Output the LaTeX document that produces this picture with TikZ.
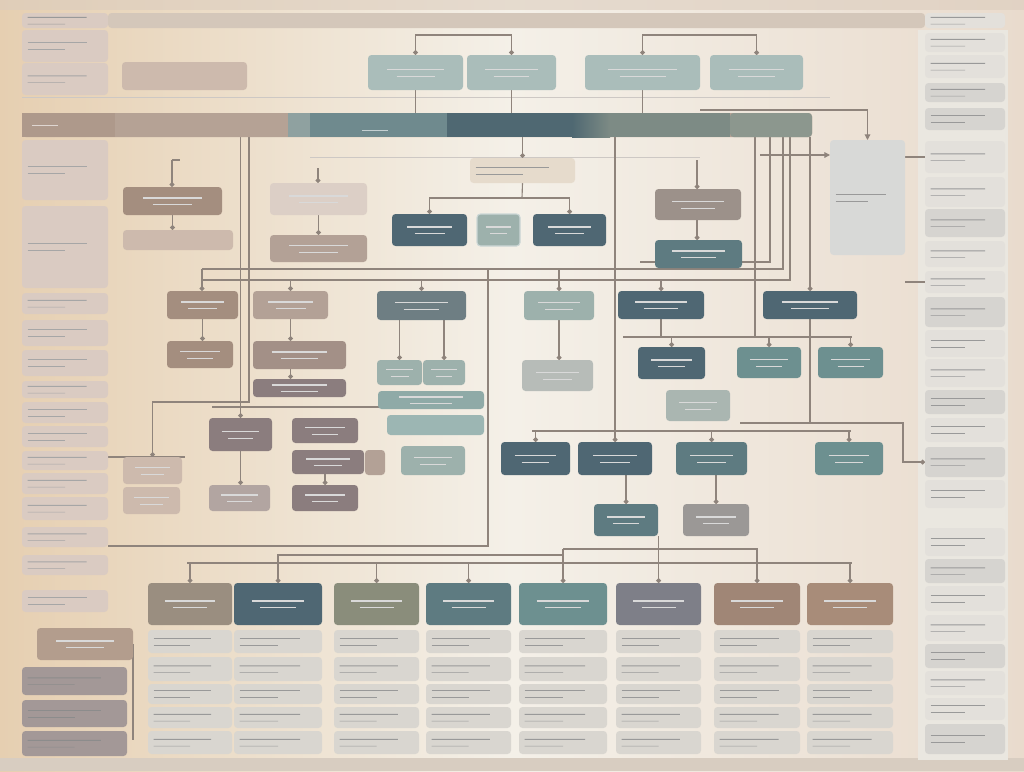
\documentclass[tikz,border=0pt]{standalone}
\usepackage{xcolor}
\usepackage{tikz}
\usetikzlibrary{
	arrows.meta,
	calc
}

\definecolor{bgL}{HTML}{E6CFB1}
\definecolor{bgM}{HTML}{F4F0E8}
\definecolor{bgR}{HTML}{E9DBCD}
\definecolor{topc}{HTML}{DCCDBE}
\definecolor{botc}{HTML}{D8CDC1}
\definecolor{hdrc}{HTML}{D4C7BA}
\definecolor{sideL}{HTML}{DACBC2}
\definecolor{sideR}{HTML}{E3E0DB}
\definecolor{sideD}{HTML}{D6D4D0}
\definecolor{tanD}{HTML}{A48E7F}
\definecolor{tanM}{HTML}{B3A196}
\definecolor{tanM2}{HTML}{A39087}
\definecolor{tanL}{HTML}{CDBAAD}
\definecolor{mauve}{HTML}{8B7D7E}
\definecolor{mauveL}{HTML}{B2A5A1}
\definecolor{slate}{HTML}{4F6773}
\definecolor{slateM}{HTML}{5E7B81}
\definecolor{slateG}{HTML}{6E7E83}
\definecolor{cteal}{HTML}{6D9090}
\definecolor{tealL}{HTML}{8FAAA7}
\definecolor{tealL2}{HTML}{9CB6B3}
\definecolor{sage}{HTML}{9DB1AC}
\definecolor{sageL}{HTML}{AABDBA}
\definecolor{sageL2}{HTML}{AAB6B1}
\definecolor{grayL}{HTML}{B7BCB8}
\definecolor{grayM}{HTML}{9B9896}
\definecolor{grayBr}{HTML}{9C918A}
\definecolor{noteC}{HTML}{E6DBCC}
\definecolor{rowc}{HTML}{D9D6D0}
\definecolor{cOlive}{HTML}{8A8D7B}
\definecolor{pgray}{HTML}{7E7F88}
\definecolor{brownL}{HTML}{A08676}
\definecolor{brownM}{HTML}{A88C79}
\definecolor{tanOl}{HTML}{9A8E80}
\definecolor{barA}{HTML}{AE998B}
\definecolor{barB}{HTML}{B5A295}
\definecolor{barC}{HTML}{8FA1A0}
\definecolor{barD}{HTML}{6F8A8E}
\definecolor{barE}{HTML}{4F6872}
\definecolor{barF}{HTML}{7D8B85}
\definecolor{barG}{HTML}{8C978E}
\definecolor{grayP}{HTML}{D8D9D7}
\definecolor{blT}{HTML}{B39D8D}
\definecolor{blM}{HTML}{A39897}
\definecolor{wirec}{HTML}{8F847C}

\pgfdeclarelayer{back}
\pgfdeclarelayer{wires}
\pgfsetlayers{back,wires,main}

% box from pixel corners: [opts]{name}{x1}{y1}{x2}{y2}{colour}
\newcommand{\cbox}[7][]{\node[box,fill=#7,minimum width={(#5-#3)*0.025cm},minimum height={(#6-#4)*0.025cm},#1] (#2) at ({(#3+#5)/2},{(#4+#6)/2}) {};}

\begin{document}
\begin{tikzpicture}[x=0.025cm,y=-0.025cm,
		box/.style={rounded corners=2.5pt,inner sep=0pt,outer sep=0pt},
		wire/.style={draw=wirec,line width=0.8pt},
		faint/.style={draw=wirec!45,line width=0.5pt},
		dot/.style={wire,-{Circle[length=3.4pt,width=3.4pt]}},
		arr/.style={wire,-{Triangle[length=4pt,width=4pt]}},
		txt/.style={path picture={
			\draw[#1,line width=0.9pt] ($(path picture bounding box.west)!0.2!(path picture bounding box.east)+(0,2.2pt)$) -- ($(path picture bounding box.west)!0.8!(path picture bounding box.east)+(0,2.2pt)$);
			\draw[#1,line width=0.5pt] ($(path picture bounding box.west)!0.3!(path picture bounding box.east)+(0,-2.6pt)$) -- ($(path picture bounding box.west)!0.7!(path picture bounding box.east)+(0,-2.6pt)$);}},
		txt/.default=white!70!gray,
		ltxt/.style={path picture={
			\draw[#1,line width=0.7pt] ($(path picture bounding box.west)+(4pt,2.2pt)$) -- ($(path picture bounding box.west)!0.75!(path picture bounding box.east)+(0,2.2pt)$);
			\draw[#1,line width=0.45pt] ($(path picture bounding box.west)+(4pt,-2.6pt)$) -- ($(path picture bounding box.west)!0.5!(path picture bounding box.east)+(0,-2.6pt)$);}},
		ltxt/.default=black!40]

	\useasboundingbox (0,0) rectangle (1024,771);
	\begin{pgfonlayer}{back}
		\shade[left color=bgL,right color=bgR,middle color=bgM] (0,0) rectangle (1024,771);
		\fill[topc,opacity=0.6] (0,0) rectangle (1024,10);
		\fill[botc] (0,758) rectangle (1024,771);
		\fill[sideR!60!bgM] (918,30) rectangle (1008,760);
	\end{pgfonlayer}

	% header strip
	\cbox[ltxt]{hdrL}{22}{13}{108}{28}{sideL}
	\cbox{hdr}{108}{13}{925}{28}{hdrc}
	\cbox[ltxt]{hdrR}{925}{13}{1005}{28}{sideR}

	% side columns
	\foreach \ya/\yb [count=\i] in {30/62,63/95,140/200,206/288,293/314,320/346,350/376,381/398,402/423,426/447,451/470,473/494,497/520,527/547,555/575,590/612}
		{\cbox[ltxt=black!35]{ls\i}{22}{\ya}{108}{\yb}{sideL}}
	\foreach \ya/\yb/\c [count=\i] in {33/52/sideR,55/78/sideR,83/102/sideD,108/130/sideD,141/173/sideR,177/207/sideR,209/237/sideD,241/267/sideR,271/293/sideR,297/327/sideD,330/357/sideR,359/387/sideR,390/414/sideD,418/442/sideR,447/477/sideD,480/508/sideR,528/556/sideR,559/583/sideD,586/611/sideR,615/641/sideR,644/668/sideD,671/695/sideR,698/720/sideR,724/754/sideD}
		{\cbox[ltxt]{rs\i}{925}{\ya}{1005}{\yb}{\c}}
	\cbox[ltxt]{gp}{830}{140}{905}{255}{grayP}

	% top row
	\cbox{t1}{122}{62}{247}{90}{tanL}
	\cbox[txt]{t2}{368}{55}{463}{90}{sageL}
	\cbox[txt]{t3}{467}{55}{556}{90}{sageL}
	\cbox[txt]{t4}{585}{55}{700}{90}{sageL}
	\cbox[txt]{t5}{710}{55}{803}{90}{sageL}

	% main bar
	\cbox{bar}{22}{113}{812}{137}{barB}
	\fill[barA] (22,113) rectangle (115,137);
	\fill[barC] (288,113) rectangle (310,137);
	\fill[barD] (310,113) rectangle (447,137);
	\fill[barE] (447,113) rectangle (572,137);
	\shade[left color=barE,right color=barF] (572,113) rectangle (610,137);
	\fill[barF] (610,113) rectangle (730,137);
	\fill[barG,rounded corners=2.5pt] (730,113) rectangle (812,137);
	\draw[barA!40!white,line width=0.7pt] (32,125) -- (58,125);
	\draw[barD!40!white,line width=0.7pt] (362,130) -- (388,130);

	% second level
	\cbox[txt]{a1}{123}{187}{222}{215}{tanD}
	\cbox{a2}{123}{230}{233}{250}{tanL}
	\cbox[txt]{b1}{270}{183}{367}{215}{tanL!70!white}
	\cbox[txt]{b2}{270}{235}{367}{262}{tanM}
	\cbox[ltxt]{c}{470}{158}{575}{183}{noteC}
	\cbox[txt]{d1}{392}{214}{467}{246}{slate}
	\cbox[txt,draw=sageL!60!white,line width=0.8pt]{d2}{477}{214}{520}{246}{sage}
	\cbox[txt]{d3}{533}{214}{606}{246}{slate}
	\cbox[txt]{e1}{655}{189}{741}{220}{grayBr}
	\cbox[txt]{e2}{655}{240}{742}{268}{slateM}

	% third level
	\cbox[txt]{f1}{167}{291}{238}{319}{tanD}
	\cbox[txt]{f2}{253}{291}{328}{319}{tanM}
	\cbox[txt]{g1}{377}{291}{466}{320}{slateG}
	\cbox[txt]{h1}{524}{291}{594}{320}{sage}
	\cbox[txt]{i1}{618}{291}{704}{319}{slate}
	\cbox[txt]{j1}{763}{291}{857}{319}{slate}

	% fourth level
	\cbox[txt]{f2a}{167}{341}{233}{368}{tanD}
	\cbox[txt]{f2b}{253}{341}{346}{369}{tanM2}
	\cbox[txt]{f2c}{253}{379}{346}{397}{mauve}
	\cbox[txt]{g2a}{377}{360}{422}{385}{sage}
	\cbox[txt]{g2b}{423}{360}{465}{385}{sage}
	\cbox[txt]{g3}{378}{391}{484}{409}{tealL}
	\cbox{g4}{387}{415}{484}{435}{tealL2}
	\cbox[txt]{h2}{522}{360}{593}{391}{grayL}
	\cbox[txt]{i2}{638}{347}{705}{379}{slate}
	\cbox[txt]{j2}{737}{347}{801}{378}{cteal}
	\cbox[txt]{j3}{818}{347}{883}{378}{cteal}
	\cbox[txt]{k1}{666}{390}{730}{421}{sageL2}

	% fifth level
	\cbox[txt]{l1}{209}{418}{272}{451}{mauve}
	\cbox[txt]{l2}{292}{418}{358}{443}{mauve}
	\cbox[txt]{l3}{292}{450}{364}{474}{mauve}
	\cbox{l4}{365}{450}{385}{475}{tanM}
	\cbox[txt]{l5}{123}{457}{182}{484}{tanL}
	\cbox[txt]{l6}{123}{487}{180}{514}{tanL}
	\cbox[txt]{l7}{209}{485}{270}{511}{mauveL}
	\cbox[txt]{l8}{292}{485}{358}{511}{mauve}
	\cbox[txt]{m1}{401}{446}{465}{475}{sage}
	\cbox[txt]{n1}{501}{442}{570}{475}{slate}
	\cbox[txt]{n2}{578}{442}{652}{475}{slate}
	\cbox[txt]{n3}{676}{442}{747}{475}{slateM}
	\cbox[txt]{n4}{815}{442}{883}{475}{cteal}
	\cbox[txt]{o1}{594}{504}{658}{536}{slateM}
	\cbox[txt]{o2}{683}{504}{749}{536}{grayM}

	% bottom columns
	\foreach \p/\xa/\xb/\c in {p1/148/232/tanOl,p2/234/322/slate,p3/334/419/cOlive,p4/426/511/slateM,p5/519/607/cteal,p6/616/701/pgray,p7/714/800/brownL,p8/807/893/brownM}{
		\cbox[txt]{\p}{\xa}{583}{\xb}{625}{\c}
		\foreach \ya/\yb [count=\r] in {630/653,657/681,684/704,707/728,731/754}
			{\cbox[ltxt]{\p r\r}{\xa+2}{\ya}{\xb-2}{\yb}{rowc}}
	}
	\cbox[txt]{bl0}{37}{628}{133}{660}{blT}
	\cbox[ltxt=black!45]{bl1}{22}{667}{127}{695}{blM}
	\cbox[ltxt=black!45]{bl2}{22}{700}{127}{727}{blM}
	\cbox[ltxt=black!45]{bl3}{22}{731}{127}{756}{blM}

	\begin{pgfonlayer}{wires}
		\draw[faint] (22,97) -- (830,97);
		\draw[faint] (310,157) -- (700,157);
		% top links
		\coordinate (k1) at (465,35);
		\coordinate (k2) at (700,35);
		\draw[dot] (k1) -| (t2.north);
		\draw[dot] (k1) -| (t3.north);
		\draw[dot] (k2) -| (t4.north);
		\draw[dot] (k2) -| (t5.north);
		\draw[wire] (t2) -- (t2 |- bar.north);
		\draw[wire] (t3) -- (t3 |- bar.north);
		\draw[wire] (t4) -- (t4 |- bar.north);
		% second level
		\coordinate (h1c) at (172,160);
		\draw[dot] (h1c) -- (h1c |- a1.north);
		\draw[wire] (h1c) -- ++(8,0);
		\draw[dot] (a1.south) -- (a1.south |- a2.north);
		\coordinate (h2c) at (318,168);
		\draw[dot] (h2c) -- (h2c |- b1.north);
		\draw[dot] (b1.south) -- (b1.south |- b2.north);
		\draw[dot] (bar.south -| c.north) -- (c.north);
		\coordinate (k3) at (522,198);
		\draw[wire] (c.south) -- (k3);
		\draw[dot] (k3) -| (d1.north);
		\draw[dot] (k3) -| (d3.north);
		\coordinate (h3c) at (697,160);
		\draw[dot] (h3c) -- (h3c |- e1.north);
		\draw[dot] (e1.south -| h3c) -- (e2.north -| h3c);
		% buses under the second level
		\coordinate (r1) at (202,269);
		\coordinate (r2) at (783,269);
		\coordinate (r3) at (202,280);
		\coordinate (r4) at (790,280);
		\draw[wire] (bar.south -| r2) -- (r2) -- (r1);
		\draw[wire] (bar.south -| r4) -- (r4) -- (r3);
		\draw[wire] (bar.south -| 770,0) -- (770,262) -- (640,262);
		\draw[wire] (e2) -- (e2 |- r1);
		\draw[dot] (r1) -- (r1 |- f1.north);
		\draw[dot] (f2.north |- r3) -- (f2.north);
		\draw[dot] (g1.north |- r3) -- (g1.north);
		\draw[dot] (h1.north |- r1) -- (h1.north);
		\draw[dot] (i1.north |- r3) -- (i1.north);
		\draw[dot] (bar.south -| j1.north) -- (j1.north);
		% third to fourth
		\draw[dot] (f1.south) -- (f1.south |- f2a.north);
		\draw[dot] (f2.south) -- (f2.south |- f2b.north);
		\draw[dot] (f2b.south -| f2.south) -- (f2c.north -| f2.south);
		\draw[dot] (g2a.north |- g1.south) -- (g2a.north);
		\draw[dot] (g2b.north |- g1.south) -- (g2b.north);
		\draw[dot] (h1.south) -- (h1.south |- h2.north);
		\coordinate (r5) at (623,337);
		\coordinate (r6) at (852,337);
		\draw[wire] (r5) -- (r6);
		\draw[wire] (i1) -- (i1 |- r5);
		\draw[wire] (bar.south -| 755,0) -- (755,337);
		\draw[dot] (i2.north |- r5) -- (i2.north);
		\draw[dot] (j2.north |- r5) -- (j2.north);
		\draw[dot] (j3.north |- r5) -- (j3.north);
		\coordinate (r7) at (740,423);
		\coordinate (r8) at (903,423);
		\draw[wire] (j1.south) |- (r7);
		\draw[dot] (j1.south |- r8) -- (r8) |- (rs15.west);
		% left branch
		\draw[dot] (bar.south -| l1.north) -- (l1.north);
		\coordinate (q1) at (249,402);
		\draw[dot] (bar.south -| q1) -- (q1) -| (l5.north);
		\draw[wire] (ls11.east |- l5.north) -- ++(77,0);
		\draw[wire] (212,407) -- (380,407);
		\draw[dot] (l1.south) -- (l1.south |- l7.north);
		\draw[dot] (l8.north |- l3.south) -- (l8.north);
		\coordinate (r12) at (488,546);
		\draw[wire] (r1 -| r12) -- (r12) -- (r12 -| ls14.east);
		% lower buses
		\coordinate (r9) at (532,431);
		\coordinate (r10) at (851,431);
		\draw[wire] (r9) -- (r10);
		\draw[dot] (n1.north |- r9) -- (n1.north);
		\draw[dot] (bar.south -| n2.north) -- (n2.north);
		\draw[dot] (n3.north |- r9) -- (n3.north);
		\draw[dot] (n4.north |- r9) -- (n4.north);
		\draw[dot] (o1.north |- n2.south) -- (o1.north);
		\draw[dot] (o2.north |- n3.south) -- (o2.north);
		\draw[dot] (p6.north |- o1.south) -- (p6.north);
		\coordinate (u1) at (187,563);
		\coordinate (u2) at (852,563);
		\draw[wire] (u1) -- (u2);
		\draw[dot] (p1.north |- u1) -- (p1.north);
		\draw[dot] (p3.north |- u1) -- (p3.north);
		\draw[dot] (p4.north |- u1) -- (p4.north);
		\draw[dot] (p8.north |- u1) -- (p8.north);
		\coordinate (u3) at (563,549);
		\coordinate (u4) at (563,555);
		\draw[dot] (u3) -| (p7.north);
		\draw[dot] (u3) -- (u3 |- p5.north);
		\draw[dot] (u4) -| (p2.north);
		% side panel links
		\coordinate (k5) at (700,110);
		\draw[arr] (k5) -| (gp.north);
		\coordinate (k6) at (760,155);
		\draw[arr] (k6) -- (k6 -| gp.west);
		\draw[wire] (gp.east |- rs5) -- (rs5.west);
		\draw[wire] (gp.east |- rs9) -- (rs9.west);
		\draw[wire] (bl0.east) -- ++(0,96);
	\end{pgfonlayer}
\end{tikzpicture}
\end{document}
